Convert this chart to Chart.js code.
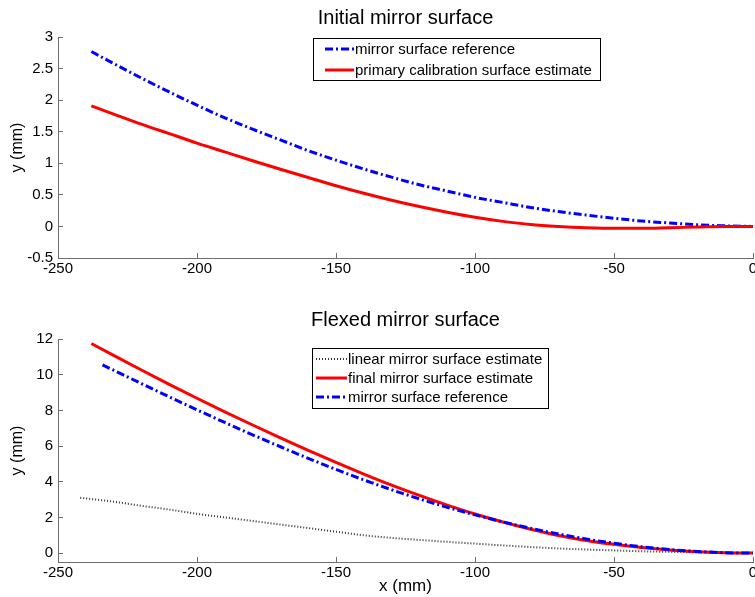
<!DOCTYPE html>
<html>
<head>
<meta charset="utf-8">
<script src="https://cdn.jsdelivr.net/npm/chart.js@4/dist/chart.umd.min.js"></script>
<style>
  html, body { margin: 0; padding: 0; background: #fff; }
  #wrap { position: relative; width: 755px; height: 597px; }
  canvas { position: absolute; left: 0; }
  #top { top: 0; }
  #bottom { top: 300px; }
</style>
</head>
<body>
<div id="wrap">
  <canvas id="top" width="755" height="300"></canvas>
  <canvas id="bottom" width="755" height="297"></canvas>
</div>
<script>
// values (x and y in mm)
const xInitial = [-238, -230, -220, -210, -200, -190, -180, -170, -160, -150, -140, -130, -120, -110, -100, -90, -80, -70, -60, -50, -40, -30, -20, -10, 0];
const refInitial = [2.77, 2.58, 2.35, 2.13, 1.92, 1.72, 1.54, 1.37, 1.2, 1.05, 0.91, 0.78, 0.66, 0.56, 0.46, 0.38, 0.3, 0.235, 0.18, 0.13, 0.085, 0.055, 0.025, 0.01, 0];
const primaryEstimate = [1.91, 1.78, 1.62, 1.47, 1.32, 1.18, 1.04, 0.905, 0.775, 0.645, 0.525, 0.415, 0.315, 0.225, 0.145, 0.08, 0.03, 0.0, -0.02, -0.03, -0.03, -0.02, -0.01, 0, 0];

const xLinear = [-242, -230, -220, -210, -200, -190, -180, -170, -160, -150, -140, -130, -120, -110, -100, -90, -80, -70, -60, -50, -40, -30, -20, -10, 0];
const linearEstimate = [3.1, 2.88, 2.65, 2.44, 2.2, 2.0, 1.8, 1.6, 1.4, 1.2, 1.0, 0.85, 0.74, 0.63, 0.53, 0.43, 0.34, 0.26, 0.2, 0.15, 0.1, 0.07, 0.04, 0.02, 0];
const xFinal = [-238, -230, -220, -210, -200, -190, -180, -170, -160, -150, -140, -130, -120, -110, -100, -90, -80, -70, -60, -50, -40, -30, -20, -10, 0];
const finalEstimate = [11.75, 11.08, 10.26, 9.46, 8.68, 7.92, 7.18, 6.46, 5.76, 5.08, 4.43, 3.81, 3.23, 2.69, 2.19, 1.74, 1.34, 0.99, 0.71, 0.49, 0.31, 0.17, 0.07, 0.02, 0];
const xRefFlexed = [-234, -230, -220, -210, -200, -190, -180, -170, -160, -150, -140, -130, -120, -110, -100, -90, -80, -70, -60, -50, -40, -30, -20, -10, 0];
const refFlexed = [10.55, 10.25, 9.5, 8.76, 8.03, 7.32, 6.63, 5.96, 5.31, 4.69, 4.1, 3.55, 3.04, 2.57, 2.14, 1.75, 1.39, 1.07, 0.79, 0.55, 0.35, 0.2, 0.09, 0.02, 0];

const xTicks = [-250, -200, -150, -100, -50, 0];
const yTicksTop = [-0.5, 0, 0.5, 1, 1.5, 2, 2.5, 3];
const yTicksBottom = [0, 2, 4, 6, 8, 10, 12];

const FONT = 'Liberation Sans, Arial, sans-serif';
const AXIS_GREY = '#6e6e6e';

function zip(xs, ys) {
  return xs.map((x, i) => ({ x, y: ys[i] }));
}

// MATLAB-like legend box placed at a fixed spot inside the axes
const boxLegend = {
  id: 'boxLegend',
  afterDraw(chart, args, opts) {
    const ctx = chart.ctx;
    ctx.save();
    ctx.fillStyle = '#fff';
    ctx.fillRect(opts.x, opts.y, opts.w, opts.h);
    ctx.strokeStyle = '#000';
    ctx.lineWidth = 1;
    ctx.strokeRect(opts.x + 0.5, opts.y + 0.5, opts.w, opts.h);
    ctx.font = `15px ${FONT}`;
    ctx.textBaseline = 'middle';
    chart.data.datasets.forEach((ds, i) => {
      const cy = opts.y + opts.first + i * opts.row;
      ctx.strokeStyle = ds.borderColor;
      ctx.lineWidth = ds.borderWidth;
      ctx.setLineDash(ds.borderDash || []);
      ctx.beginPath();
      ctx.moveTo(opts.x + opts.s0, cy);
      ctx.lineTo(opts.x + opts.s1, cy);
      ctx.stroke();
      ctx.setLineDash([]);
      ctx.fillStyle = '#000';
      ctx.fillText(ds.label, opts.x + opts.s1 + 1, cy + 1);
    });
    ctx.restore();
  },
};

const fmt = (v) => String(v);

function axisX(showTitle, height) {
  return {
    type: 'linear',
    min: -250,
    max: 0,
    afterBuildTicks: (s) => { s.ticks = xTicks.map((v) => ({ value: v })); },
    afterFit: (s) => { s.height = height; s.paddingLeft = 0; s.paddingRight = 0; },
    ticks: { color: '#000', font: { family: FONT, size: 15 }, padding: 7, maxRotation: 0, autoSkip: false, callback: fmt },
    grid: { drawOnChartArea: false, tickLength: -5, color: AXIS_GREY },
    border: { color: AXIS_GREY, width: 1 },
    title: { display: showTitle, text: 'x (mm)', color: '#000', font: { family: FONT, size: 17 }, padding: 0 },
  };
}

function axisY(min, max, ticks) {
  return {
    type: 'linear',
    min,
    max,
    afterBuildTicks: (s) => { s.ticks = ticks.map((v) => ({ value: v })); },
    afterFit: (s) => { s.width = 58; s.paddingTop = 0; s.paddingBottom = 0; },
    ticks: { color: '#000', font: { family: FONT, size: 15 }, padding: 10, autoSkip: false, callback: fmt },
    grid: { drawOnChartArea: false, tickLength: -5, color: AXIS_GREY },
    border: { color: AXIS_GREY, width: 1 },
    title: { display: true, text: 'y (mm)', color: '#000', font: { family: FONT, size: 16 }, padding: { top: 8, bottom: 0 } },
  };
}

function makeChart(id, cfg) {
  const n = cfg.datasets.length;
  const datasets = cfg.datasets.map((ds, i) => ({
    ...ds,
    order: n - 1 - i,
    showLine: true,
    pointRadius: 0,
    fill: false,
    cubicInterpolationMode: 'monotone',
  }));
  return new Chart(document.getElementById(id), {
    type: 'scatter',
    data: { datasets },
    options: {
      responsive: false,
      animation: false,
      devicePixelRatio: 1,
      layout: { padding: { left: 0, right: 2, top: 0, bottom: 0 } },
      scales: {
        x: axisX(cfg.xTitle, cfg.xHeight),
        y: axisY(cfg.yMin, cfg.yMax, cfg.yTicks),
      },
      plugins: {
        legend: { display: false },
        tooltip: { enabled: false },
        title: {
          display: true,
          text: cfg.title,
          fullSize: false,
          color: '#000',
          font: { family: FONT, size: 20, weight: 'normal' },
          padding: cfg.titlePadding,
        },
        boxLegend: cfg.legend,
      },
    },
    plugins: [boxLegend],
  });
}

makeChart('top', {
  title: 'Initial mirror surface',
  titlePadding: { top: 6, bottom: 7 },
  xTitle: false,
  xHeight: 42,
  yMin: -0.5,
  yMax: 3,
  yTicks: yTicksTop,
  legend: { x: 313, y: 38, w: 287, h: 42, first: 11, row: 21, s0: 12, s1: 41 },
  datasets: [
    { label: 'mirror surface reference', data: zip(xInitial, refInitial), borderColor: '#0000ff', borderWidth: 3, borderDash: [8, 3, 2, 3] },
    { label: 'primary calibration surface estimate', data: zip(xInitial, primaryEstimate), borderColor: '#ff0000', borderWidth: 3 },
  ],
});

makeChart('bottom', {
  title: 'Flexed mirror surface',
  titlePadding: { top: 8, bottom: 7 },
  xTitle: true,
  xHeight: 35,
  yMin: -0.5,
  yMax: 12,
  yTicks: yTicksBottom,
  legend: { x: 312, y: 48, w: 236, h: 60, first: 11, row: 19, s0: 4, s1: 35 },
  datasets: [
    { label: 'linear mirror surface estimate', data: zip(xLinear, linearEstimate), borderColor: '#333333', borderWidth: 2, borderDash: [1, 2] },
    { label: 'final mirror surface estimate', data: zip(xFinal, finalEstimate), borderColor: '#ff0000', borderWidth: 3 },
    { label: 'mirror surface reference', data: zip(xRefFlexed, refFlexed), borderColor: '#0000ff', borderWidth: 3, borderDash: [8, 3, 2, 3] },
  ],
});
</script>
</body>
</html>
